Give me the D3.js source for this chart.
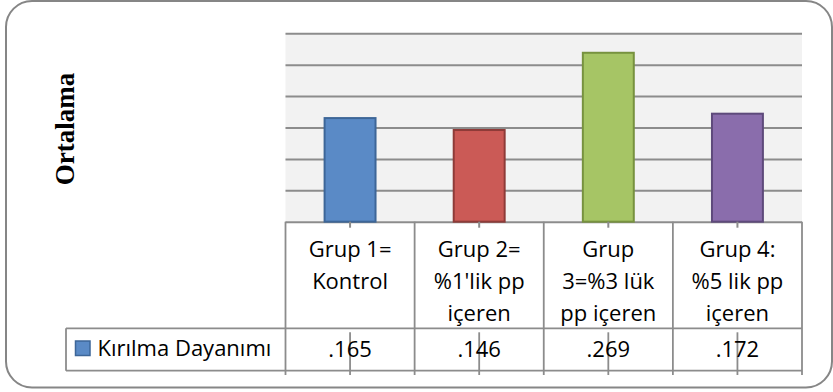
<!DOCTYPE html>
<html>
<head>
<meta charset="utf-8">
<script src="https://cdn.jsdelivr.net/npm/d3@7"></script>
<style>
  html, body { margin: 0; padding: 0; background: #fff; }
  svg { display: block; }
</style>
</head>
<body>
<svg id="chart" width="833" height="392"></svg>
<script>
// Category header lines (as wrapped in the data table)
const categoryLines = [
  ["Grup 1=", "Kontrol"],
  ["Grup 2=", "%1'lik pp", "içeren"],
  ["Grup", "3=%3 lük", "pp içeren"],
  ["Grup 4:", "%5 lik pp", "içeren"]
];
const categories = categoryLines.map(l => l.join(" "));
const seriesName = "Kırılma Dayanımı";
const seriesValues = [0.165, 0.146, 0.269, 0.172];
const yTicks = [0, 0.05, 0.10, 0.15, 0.20, 0.25, 0.30];
const yTitle = "Ortalama";

const barFill = ["#5a8ac6", "#cb5a56", "#a6c565", "#8a6dac"];
const barStroke = ["#3d6698", "#8e3b38", "#77923f", "#5e4a7b"];
const gridColor = "#8c8c8c";
const sansFont = "'Open Sans', 'Noto Sans', sans-serif";

const svg = d3.select("#chart");

// Plot area and table geometry
const plot = { left: 285.5, right: 802, top: 33.3, bottom: 221.7 };
const table = { headerTop: 221.7, valueTop: 328.3, valueBottom: 370.7, lineEnd: 375, legendLeft: 66 };

// Outer rounded frame
svg.append("rect")
  .attr("x", 6).attr("y", 1)
  .attr("width", 826).attr("height", 386.5)
  .attr("rx", 26).attr("ry", 26)
  .attr("fill", "#fff")
  .attr("stroke", "#868686").attr("stroke-width", 2);

const y = d3.scaleLinear().domain([0, 0.30]).range([plot.bottom, plot.top]);
const xCell = d3.scaleBand().domain(categories).range([plot.left, plot.right]).padding(0);
const xBar = d3.scaleBand().domain(categories).range([plot.left, plot.right])
  .paddingInner(0.59).paddingOuter(0.295);

// Plot background
svg.append("rect")
  .attr("x", plot.left).attr("y", plot.top)
  .attr("width", plot.right - plot.left).attr("height", plot.bottom - plot.top)
  .attr("fill", "#f2f2f2");

// Horizontal gridlines
const grid = svg.append("g")
  .attr("transform", `translate(${plot.left},0)`)
  .call(d3.axisLeft(y).tickValues(yTicks).tickSize(-(plot.right - plot.left)).tickFormat(""));
grid.select(".domain").remove();
grid.selectAll(".tick line").attr("stroke", gridColor).attr("stroke-width", 2);

// Bars
svg.append("g").selectAll("rect")
  .data(seriesValues)
  .join("rect")
  .attr("x", (d, i) => xBar(categories[i]) + 1)
  .attr("y", d => y(d))
  .attr("width", xBar.bandwidth() - 2)
  .attr("height", d => y(0) - y(d))
  .attr("fill", (d, i) => barFill[i])
  .attr("stroke", (d, i) => barStroke[i])
  .attr("stroke-width", 2);

// Category axis tick marks below the baseline
const xAxis = svg.append("g")
  .attr("transform", `translate(0,${plot.bottom})`)
  .call(d3.axisBottom(xCell).tickSize(6).tickSizeOuter(0).tickFormat(""));
xAxis.select(".domain").remove();
xAxis.selectAll(".tick line").attr("stroke", gridColor).attr("stroke-width", 2);

// Data table lines
const tableLines = svg.append("g").attr("stroke", gridColor).attr("stroke-width", 1.8).attr("fill", "none");
const boundaries = categories.map(c => xCell(c)).concat([plot.right]);
tableLines.selectAll("line.col")
  .data(boundaries)
  .join("line")
  .attr("x1", d => d).attr("x2", d => d)
  .attr("y1", table.headerTop).attr("y2", table.lineEnd);
tableLines.append("line")
  .attr("x1", table.legendLeft).attr("x2", plot.right)
  .attr("y1", table.valueTop).attr("y2", table.valueTop);
tableLines.append("line")
  .attr("x1", table.legendLeft).attr("x2", plot.right)
  .attr("y1", table.valueBottom).attr("y2", table.valueBottom);
tableLines.append("line")
  .attr("x1", table.legendLeft).attr("x2", table.legendLeft)
  .attr("y1", table.valueTop).attr("y2", table.valueBottom);
// tick marks repeated through the value row
tableLines.selectAll("line.mid")
  .data(categories)
  .join("line")
  .attr("x1", d => xCell(d) + xCell.bandwidth() / 2)
  .attr("x2", d => xCell(d) + xCell.bandwidth() / 2)
  .attr("y1", table.valueTop + 4).attr("y2", table.lineEnd);

// Header text
const header = svg.append("g")
  .attr("font-family", sansFont).attr("font-size", 22).attr("fill", "#000")
  .attr("text-anchor", "middle");
categoryLines.forEach((lines, i) => {
  const cx = xCell(categories[i]) + xCell.bandwidth() / 2;
  header.append("text")
    .selectAll("tspan")
    .data(lines)
    .join("tspan")
    .attr("x", cx)
    .attr("y", (d, j) => 256.5 + j * 32)
    .text(d => d);
});

// Value row
const fmt = v => d3.format(".3f")(v).replace(/^0/, "");
svg.append("g")
  .attr("font-family", sansFont).attr("font-size", 22).attr("fill", "#000")
  .attr("text-anchor", "middle")
  .selectAll("text")
  .data(seriesValues)
  .join("text")
  .attr("x", (d, i) => xCell(categories[i]) + xCell.bandwidth() / 2)
  .attr("y", 356.5)
  .text(d => fmt(d));

// Legend key + series name
svg.append("rect")
  .attr("x", 75.5).attr("y", 341)
  .attr("width", 14.5).attr("height", 14.5)
  .attr("fill", barFill[0]).attr("stroke", barStroke[0]).attr("stroke-width", 1.5);
svg.append("text")
  .attr("x", 97.5).attr("y", 355.5)
  .attr("font-family", sansFont).attr("font-size", 22).attr("fill", "#000")
  .text(seriesName);

// Y-axis title
svg.append("text")
  .attr("transform", "translate(74,129) rotate(-90)")
  .attr("text-anchor", "middle")
  .attr("font-family", "'Liberation Serif', 'Times New Roman', serif")
  .attr("font-weight", "bold").attr("font-size", 27)
  .attr("fill", "#000")
  .text(yTitle);
</script>
</body>
</html>
